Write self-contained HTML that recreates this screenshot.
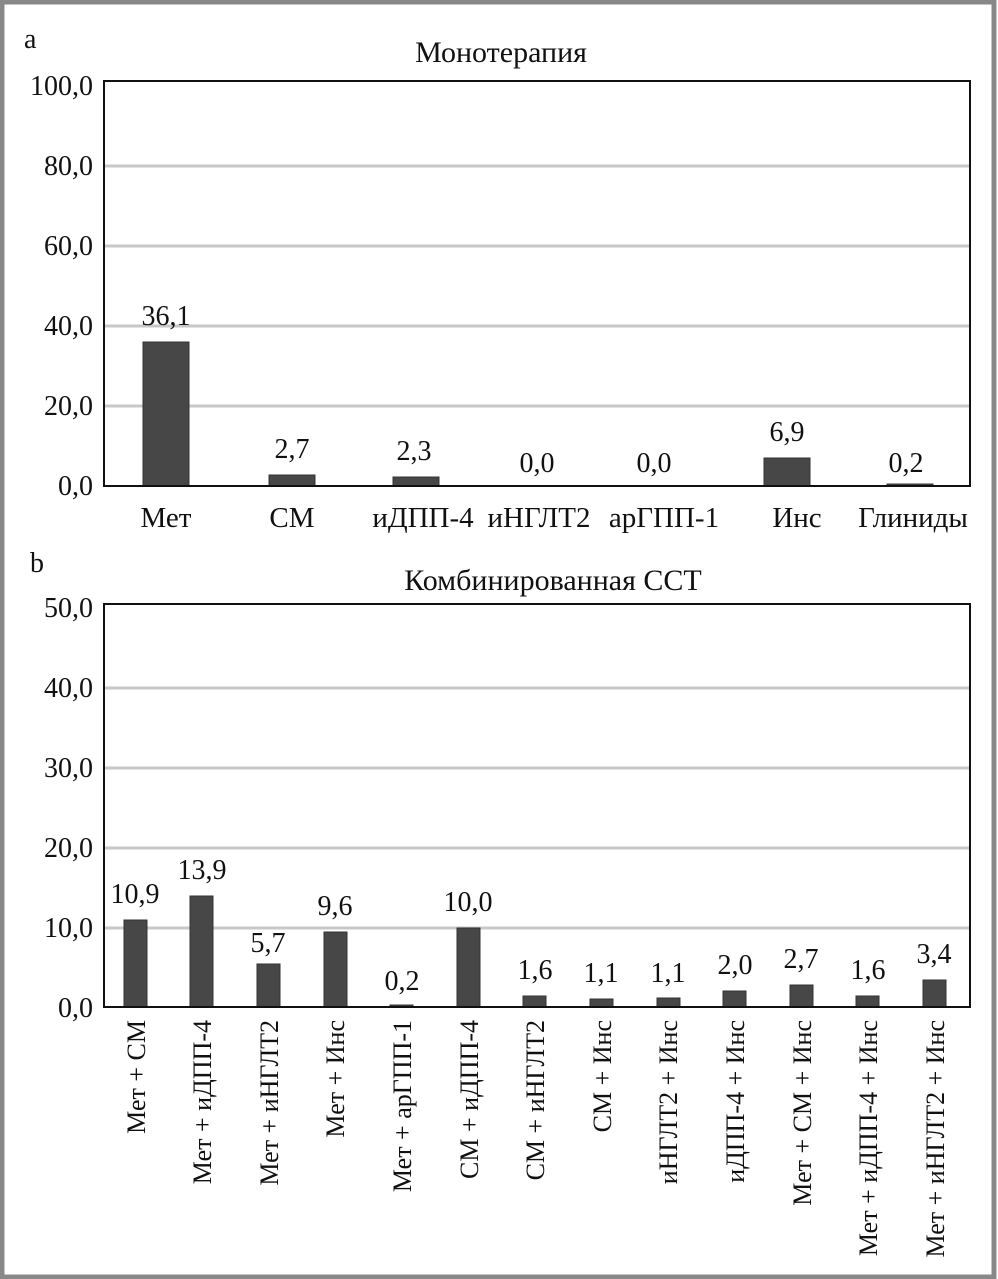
<!DOCTYPE html>
<html><head><meta charset="utf-8"><style>body{margin:0;background:#fff}svg{display:block}text{font-family:"Liberation Serif",serif;font-size:28px;fill:#111}text.r{font-size:26px}text.x{font-size:29px}text.t{font-size:30px}</style></head>
<body>
<svg width="998" height="1279" viewBox="0 0 998 1279" xmlns="http://www.w3.org/2000/svg">
<rect x="2" y="2" width="992" height="1275" fill="#fff" stroke="#888" stroke-width="5"/>
<text x="24" y="48">a</text>
<text class="t" x="501" y="62" text-anchor="middle">Монотерапия</text>
<g stroke="#c8c8c8" stroke-width="3">
<line x1="105" x2="969" y1="166" y2="166"/><line x1="105" x2="969" y1="246" y2="246"/><line x1="105" x2="969" y1="326" y2="326"/><line x1="105" x2="969" y1="406" y2="406"/>
</g>
<g text-anchor="end">
<text x="93" y="95">100,0</text><text x="93" y="175">80,0</text><text x="93" y="255">60,0</text><text x="93" y="335">40,0</text><text x="93" y="415">20,0</text><text x="93" y="495">0,0</text>
</g>
<g fill="#474747" stroke="#333" stroke-width="1">
<rect x="143" y="342" width="46" height="144"/>
<rect x="269" y="475" width="46" height="11"/>
<rect x="393" y="477" width="46" height="9"/>
<rect x="764" y="458" width="46" height="28"/>
<rect x="887" y="484" width="46" height="2"/>
</g>
<g text-anchor="middle">
<text x="166" y="325">36,1</text><text x="292" y="458">2,7</text><text x="414" y="460">2,3</text><text x="537" y="472">0,0</text><text x="654" y="472">0,0</text><text x="787" y="441">6,9</text><text x="906" y="472">0,2</text>
</g>
<g text-anchor="middle">
<text class="x" x="166" y="527">Мет</text><text class="x" x="292" y="527">СМ</text><text class="x" x="423" y="527">иДПП-4</text><text class="x" x="539" y="527">иНГЛТ2</text><text class="x" x="664" y="527">арГПП-1</text><text class="x" x="797" y="527">Инс</text><text class="x" x="913" y="527">Глиниды</text>
</g>
<rect x="104" y="81" width="866" height="405" fill="none" stroke="#111" stroke-width="2"/>

<text x="30" y="572">b</text>
<text class="t" x="553" y="590" text-anchor="middle">Комбинированная ССТ</text>
<g stroke="#c8c8c8" stroke-width="3">
<line x1="105" x2="969" y1="688" y2="688"/><line x1="105" x2="969" y1="768" y2="768"/><line x1="105" x2="969" y1="848" y2="848"/><line x1="105" x2="969" y1="928" y2="928"/>
</g>
<g text-anchor="end">
<text x="93" y="617">50,0</text><text x="93" y="697">40,0</text><text x="93" y="777">30,0</text><text x="93" y="857">20,0</text><text x="93" y="937">10,0</text><text x="93" y="1017">0,0</text>
</g>
<g fill="#474747" stroke="#333" stroke-width="1">
<rect x="124" y="920" width="23" height="87"/>
<rect x="190" y="896" width="23" height="111"/>
<rect x="257" y="964" width="23" height="43"/>
<rect x="324" y="932" width="23" height="75"/>
<rect x="390" y="1005" width="23" height="2"/>
<rect x="457" y="928" width="23" height="79"/>
<rect x="523" y="996" width="23" height="11"/>
<rect x="590" y="999" width="23" height="8"/>
<rect x="657" y="998" width="23" height="9"/>
<rect x="723" y="991" width="23" height="16"/>
<rect x="790" y="985" width="23" height="22"/>
<rect x="856" y="996" width="23" height="11"/>
<rect x="923" y="980" width="23" height="27"/>
</g>
<g text-anchor="middle">
<text x="135" y="903">10,9</text><text x="202" y="879">13,9</text><text x="268" y="952">5,7</text><text x="335" y="915">9,6</text><text x="402" y="990">0,2</text><text x="468" y="911">10,0</text><text x="535" y="979">1,6</text><text x="601" y="982">1,1</text><text x="668" y="982">1,1</text><text x="735" y="974">2,0</text><text x="801" y="968">2,7</text><text x="868" y="979">1,6</text><text x="934" y="963">3,4</text>
</g>
<g text-anchor="end">
<text class="r" transform="translate(145,1020) rotate(-90)">Мет + СМ</text>
<text class="r" transform="translate(211,1020) rotate(-90)">Мет + иДПП-4</text>
<text class="r" transform="translate(278,1020) rotate(-90)">Мет + иНГЛТ2</text>
<text class="r" transform="translate(344,1020) rotate(-90)">Мет + Инс</text>
<text class="r" transform="translate(411,1020) rotate(-90)">Мет + арГПП-1</text>
<text class="r" transform="translate(478,1020) rotate(-90)">СМ + иДПП-4</text>
<text class="r" transform="translate(544,1020) rotate(-90)">СМ + иНГЛТ2</text>
<text class="r" transform="translate(611,1020) rotate(-90)">СМ + Инс</text>
<text class="r" transform="translate(677,1020) rotate(-90)">иНГЛТ2 + Инс</text>
<text class="r" transform="translate(744,1020) rotate(-90)">иДПП-4 + Инс</text>
<text class="r" transform="translate(811,1020) rotate(-90)">Мет + СМ + Инс</text>
<text class="r" transform="translate(877,1020) rotate(-90)">Мет + иДПП-4 + Инс</text>
<text class="r" transform="translate(944,1020) rotate(-90)">Мет + иНГЛТ2 + Инс</text>
</g>
<rect x="104" y="604" width="866" height="403" fill="none" stroke="#111" stroke-width="2"/>
</svg>
</body></html>
